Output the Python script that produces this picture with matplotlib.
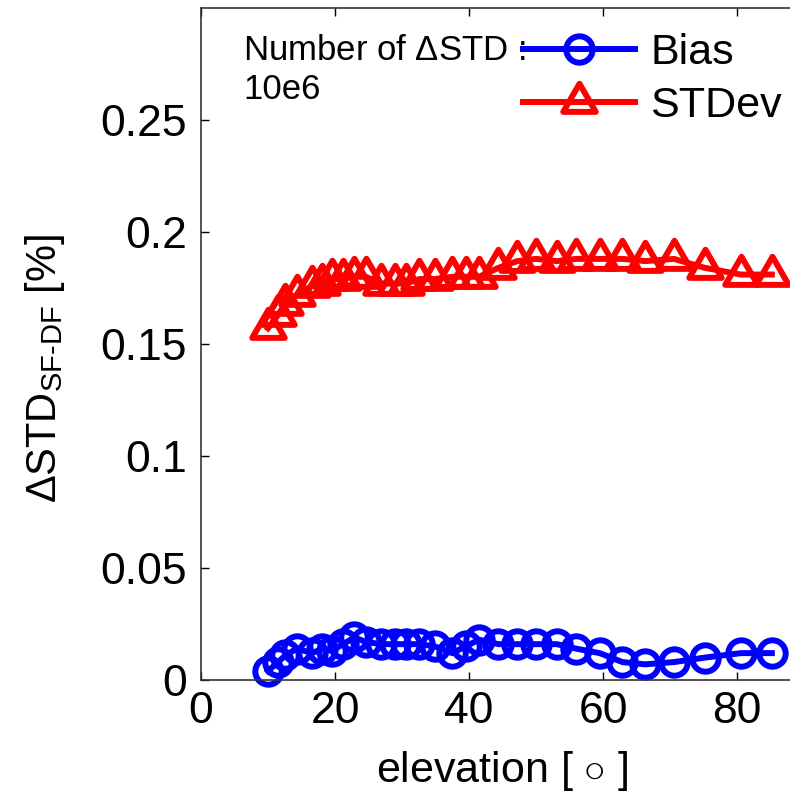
import numpy as np
import matplotlib.pyplot as plt
from matplotlib.path import Path
from matplotlib.markers import MarkerStyle

plt.rcParams['font.family'] = ['Liberation Sans', 'DejaVu Sans']
plt.rcParams['mathtext.fontset'] = 'custom'
plt.rcParams['mathtext.rm'] = 'Liberation Sans'
plt.rcParams['mathtext.it'] = 'Liberation Sans:italic'
plt.rcParams['mathtext.bf'] = 'Liberation Sans:bold'

# values
elevation = [10, 11.5, 12.6, 14.3, 16.6, 18.1, 19.5, 21.2, 22.9, 24.6,
             26.9, 28.9, 30.6, 32.6, 34.9, 37.5, 39.5, 41.5, 44.4, 47.2,
             50, 53.1, 56, 59.5, 62.9, 66.3, 70.6, 75.2, 80.6, 85.2]
bias = [0.004, 0.008, 0.011, 0.014, 0.012, 0.014, 0.013, 0.016, 0.019, 0.017,
        0.016, 0.016, 0.016, 0.016, 0.015, 0.012, 0.015, 0.018, 0.016, 0.016,
        0.016, 0.016, 0.014, 0.012, 0.008, 0.007, 0.008, 0.010, 0.012, 0.012]
stdev = [0.157, 0.163, 0.168, 0.172, 0.176, 0.177, 0.179, 0.179, 0.180, 0.180,
         0.177, 0.177, 0.177, 0.179, 0.179, 0.180, 0.180, 0.180, 0.184, 0.187,
         0.188, 0.187, 0.188, 0.188, 0.188, 0.187, 0.188, 0.184, 0.181, 0.181]

xticks = [0, 20, 40, 60, 80]
yticks = [0, 0.05, 0.1, 0.15, 0.2, 0.25]
ytick_labels = ['0', '0.05', '0.1', '0.15', '0.2', '0.25']

# triangle with its centroid on the data point (like MATLAB's '^')
tri_path = Path([(0, 1), (-0.866, -0.5), (0.866, -0.5), (0, 1)],
                [Path.MOVETO, Path.LINETO, Path.LINETO, Path.CLOSEPOLY])
tri = MarkerStyle(tri_path, joinstyle='round')

fig = plt.figure(figsize=(7.9, 7.94), dpi=100)
ax = fig.add_axes([201 / 790, 114 / 794, 603 / 790, 672 / 794])

ax.plot(elevation, bias, '-o', color='b', lw=4.3, ms=19, mew=4.3,
        mfc='none', clip_on=False, label='Bias')
ax.plot(elevation, stdev, '-', marker=tri, color='r', lw=4.3, ms=27, mew=4.3,
        mfc='none', clip_on=False, label='STDev', solid_joinstyle='round')

ax.set_xlim(0, 90)
ax.set_ylim(0, 0.3)
ax.set_xticks(xticks)
ax.set_yticks(yticks)
ax.set_yticklabels(ytick_labels)
ax.tick_params(direction='in', top=True, right=True, length=6, width=1,
               labelsize=32)
ax.tick_params(axis='x', pad=8)
ax.tick_params(axis='y', pad=10)
for s in ax.spines.values():
    s.set_linewidth(1.2)
    s.set_color('#333333')

ax.set_xlabel('elevation [ $\\circ$ ]', fontsize=31, labelpad=12)
ax.set_ylabel('$\\Delta$STD$_{\\mathregular{SF\u2010DF}}$ [%]', fontsize=30)
ax.yaxis.set_label_coords(-0.222, 0.464)

fig.text(243 / 790, 1 - 60 / 794, 'Number of $\\Delta$STD :', fontsize=25,
         ha='left', va='baseline')
fig.text(243 / 790, 1 - 99 / 794, '10e6', fontsize=25,
         ha='left', va='baseline')

ax.legend(loc='upper left', bbox_to_anchor=(523 / 790, 1 - 33 / 794),
          bbox_transform=fig.transFigure, frameon=False, fontsize=31,
          handlelength=2.6, handletextpad=0.35, borderpad=0, borderaxespad=0,
          labelspacing=0.3)

fig.savefig('out.png', dpi=100)
